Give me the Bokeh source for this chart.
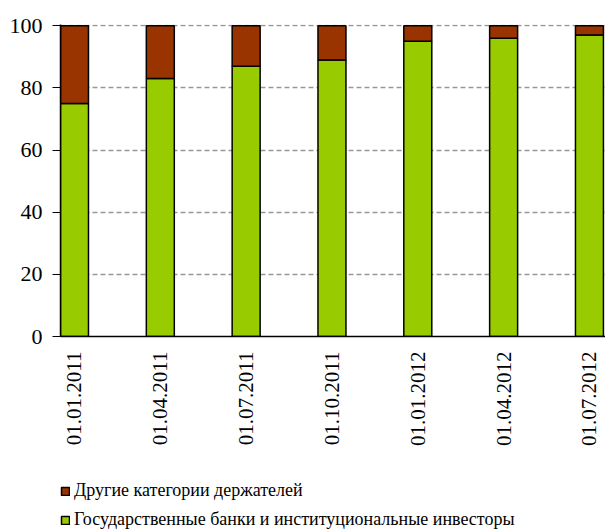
from bokeh.plotting import figure
from bokeh.layouts import column
from bokeh.models import ColumnDataSource, Range1d, FixedTicker, Legend, LegendItem
from bokeh.embed import file_html
from bokeh.resources import INLINE
import math

dates = ["01.01.2011", "01.04.2011", "01.07.2011", "01.10.2011",
         "01.01.2012", "01.04.2012", "01.07.2012"]
state_banks = [75, 83, 87, 89, 95, 96, 97]
other_holders = [25, 17, 13, 11, 5, 4, 3]
y_ticks = [0, 20, 40, 60, 80, 100]

label_other = "Другие категории держателей"
label_state = "Государственные банки и институциональные инвесторы"

colors = ["#99CC00", "#993300"]
FONT = "Liberation Serif"

pos = list(range(len(dates)))
src = ColumnDataSource(dict(x=pos, state=state_banks, other=other_holders))

p = figure(width=605, height=478, output_backend="svg", toolbar_location=None,
           x_range=Range1d(-0.163, 6.187), y_range=Range1d(0, 100.4),
           min_border_left=60, min_border_top=24, min_border_right=0,
           min_border_bottom=142)
p.outline_line_color = None
p.background_fill_color = "white"

rs = p.vbar_stack(["state", "other"], x="x", width=0.326, source=src,
                  fill_color=colors, line_color="black", line_width=1.5)

p.xgrid.grid_line_color = None
p.ygrid.ticker = FixedTicker(ticks=[20, 40, 60, 80, 100])
p.ygrid.grid_line_color = "#999999"
p.ygrid.grid_line_dash = "5 3"
p.ygrid.grid_line_width = 1.5

p.yaxis.ticker = FixedTicker(ticks=y_ticks)
p.yaxis.major_tick_out = 8
p.yaxis.major_tick_in = 0
p.yaxis.minor_tick_line_color = None
p.yaxis.major_label_standoff = 10
p.yaxis.major_label_text_font = FONT
p.yaxis.major_label_text_font_size = "22px"
p.yaxis.major_label_text_color = "black"
p.yaxis.axis_line_color = "black"
p.yaxis.axis_line_width = 1.5

p.xaxis.ticker = FixedTicker(ticks=pos)
p.xaxis.major_label_overrides = {i: d for i, d in zip(pos, dates)}
p.xaxis.major_label_orientation = math.pi / 2
p.xaxis.major_tick_out = 0
p.xaxis.major_tick_in = 0
p.xaxis.minor_tick_line_color = None
p.xaxis.major_label_standoff = 15
p.xaxis.major_label_text_font = FONT
p.xaxis.major_label_text_font_size = "21px"
p.xaxis.major_label_text_color = "black"
p.xaxis.axis_line_color = "black"
p.xaxis.axis_line_width = 1.5

# legend strip below the chart (its frame is aligned with the chart frame);
# the proxy bars use the real data but are hidden, only their legend swatches show
p2 = figure(width=605, height=52, output_backend="svg", toolbar_location=None,
            x_range=Range1d(100, 101), y_range=Range1d(-2, -1),
            x_axis_location=None, y_axis_location=None,
            min_border_left=0, min_border_top=0, min_border_right=0,
            min_border_bottom=0)
p2.grid.visible = False
p2.outline_line_color = None
r_other = p2.vbar(x="x", top="other", width=0.326, source=src,
                  fill_color=colors[1], line_color="black", line_width=1.5)
r_state = p2.vbar(x="x", top="state", width=0.326, source=src,
                  fill_color=colors[0], line_color="black", line_width=1.5)
r_other.visible = False
r_state.visible = False

legend = Legend(items=[LegendItem(label=label_other, renderers=[r_other]),
                       LegendItem(label=label_state, renderers=[r_state])],
                location=(0, 0), orientation="vertical", margin=0,
                glyph_width=10, glyph_height=10, label_height=20,
                spacing=8, padding=2, label_standoff=4,
                border_line_color=None, background_fill_alpha=0,
                inactive_fill_alpha=0,
                label_text_font=FONT, label_text_font_size="18px",
                label_text_color="black")
p2.add_layout(legend)

layout = column(p, p2, spacing=0)
open("out.html", "w").write(file_html(layout, INLINE))
